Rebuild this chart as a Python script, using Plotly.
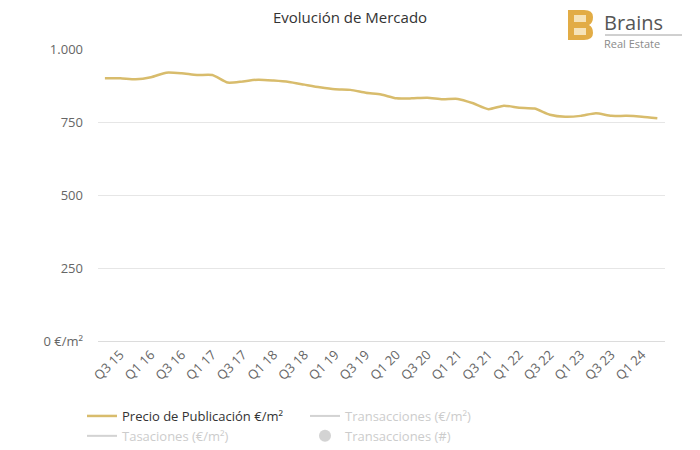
import plotly.graph_objects as go

categories = [
    "Q2 15", "Q3 15", "Q4 15",
    "Q1 16", "Q2 16", "Q3 16", "Q4 16",
    "Q1 17", "Q2 17", "Q3 17", "Q4 17",
    "Q1 18", "Q2 18", "Q3 18", "Q4 18",
    "Q1 19", "Q2 19", "Q3 19", "Q4 19",
    "Q1 20", "Q2 20", "Q3 20", "Q4 20",
    "Q1 21", "Q2 21", "Q3 21", "Q4 21",
    "Q1 22", "Q2 22", "Q3 22", "Q4 22",
    "Q1 23", "Q2 23", "Q3 23", "Q4 23",
    "Q1 24", "Q2 24",
]
precio_publicacion = [
    900, 900, 896, 903, 919, 917, 911, 911, 885, 889, 895, 892, 887,
    878, 869, 862, 860, 850, 844, 831, 831, 833, 828, 829, 814, 794,
    806, 799, 796, 775, 768, 771, 780, 771, 771, 768, 763,
]
x_tick_labels = categories[1::2]
y_tick_values = [0, 250, 500, 750, 1000]
y_tick_labels = ["0 €/m²", "250", "500", "750", "1.000"]

FONT = "Open Sans"
GOLD_LINE = "#D8BC6C"
LOGO_GOLD = "#E2AC45"

fig = go.Figure()
fig.add_trace(go.Scatter(
    x=categories, y=precio_publicacion, mode="lines",
    name="Precio de Publicación €/m²",
    line=dict(color=GOLD_LINE, width=2.5, shape="spline", smoothing=0.6),
))
fig.add_trace(go.Scatter(
    x=[categories[0]], y=[None], mode="lines", visible="legendonly",
    name="<span style='color:#9a9a9a'>Transacciones (€/m²)</span>",
    line=dict(color="#a8a8a8", width=2),
))
fig.add_trace(go.Scatter(
    x=[categories[0]], y=[None], mode="lines", visible="legendonly",
    name="<span style='color:#9a9a9a'>Tasaciones (€/m²)</span>",
    line=dict(color="#a8a8a8", width=2),
))
fig.add_trace(go.Scatter(
    x=[categories[0]], y=[None], mode="markers", visible="legendonly",
    name="<span style='color:#9a9a9a'>Transacciones (#)</span>",
    marker=dict(color="#a8a8a8", size=12),
))

# The page body has an 8px margin: figure is drawn at screen offset (8, 8).
OFF = 8
W, H = 700 - OFF, 450 - OFF
# plot area in screen pixels: x 98..665, y 49..341
L = 98 - OFF
T = 49 - OFF
R = W - (665 - OFF)
B = H - (341 - OFF)
PW, PH = W - L - R, H - T - B


def px(x):  # screen x -> paper x
    return (x - OFF - L) / PW


def py(y):  # screen y -> paper y
    return (H - B - (y - OFF)) / PH


# Logo "B"
y0, y1 = 10, 40
ym = (y0 + y1) / 2
bpath = (
    f"M {px(568)},{py(y0)} L {px(584)},{py(y0)} "
    f"Q {px(593)},{py(y0)} {px(593)},{py(y0 + 7)} "
    f"Q {px(593)},{py(ym - 2)} {px(589)},{py(ym)} "
    f"Q {px(593)},{py(ym + 2)} {px(593)},{py(y1 - 7)} "
    f"Q {px(593)},{py(y1)} {px(584)},{py(y1)} "
    f"L {px(568)},{py(y1)} Z"
)
shapes = [
    dict(type="path", xref="paper", yref="paper", path=bpath,
         fillcolor=LOGO_GOLD, line=dict(width=0)),
    dict(type="rect", xref="paper", yref="paper",
         x0=px(574), x1=px(586), y0=py(y0 + 5), y1=py(ym - 3),
         fillcolor="#f6e3b8", line=dict(width=0)),
    dict(type="rect", xref="paper", yref="paper",
         x0=px(574), x1=px(586), y0=py(ym + 3), y1=py(y1 - 5),
         fillcolor="#f6e3b8", line=dict(width=0)),
    dict(type="line", xref="paper", yref="paper",
         x0=px(605), x1=px(682), y0=py(35), y1=py(35),
         line=dict(color="#a0a0a0", width=1)),
]

annotations = [
    dict(text=("<span style='font-size:20px;color:#555555'>Brains</span>"
               "<br><span style='font-size:11px'>Real Estate</span>"),
         xref="paper", yref="paper", x=px(603), y=py(OFF),
         xanchor="left", yanchor="top", align="left", showarrow=False,
         borderpad=0,
         font=dict(family=FONT, size=13.5, color="#8a8a8a")),
]

fig.update_layout(
    width=W, height=H,
    margin=dict(l=L, r=R, t=T, b=B, autoexpand=False),
    paper_bgcolor="white", plot_bgcolor="white",
    font=dict(family=FONT, color="#333333"),
    title=dict(text="Evolución de Mercado", x=(350 - OFF) / W, xanchor="center",
               xref="container", yref="container",
               y=1 - (18 - OFF) / H, yanchor="middle",
               font=dict(family=FONT, size=15, color="#333333")),
    showlegend=True,
    legend=dict(orientation="h", xref="container", yref="container",
                x=(82 - OFF) / W, xanchor="left", y=1 - (401 - OFF) / H,
                yanchor="top", entrywidth=178, tracegroupgap=0,
                font=dict(family=FONT, size=13, color="#333333"),
                bgcolor="rgba(0,0,0,0)"),
    shapes=shapes,
    annotations=annotations,
)
fig.update_xaxes(
    type="category", range=[-0.45, len(categories) - 0.5],
    tickmode="array", tickvals=x_tick_labels, ticktext=x_tick_labels,
    tickangle=-45, showgrid=False, showline=True, linecolor="#dcdcdc",
    linewidth=1, ticks="", automargin=False,
    tickfont=dict(family=FONT, size=13, color="#666666"),
)
fig.update_yaxes(
    range=[0, 1000], tickmode="array", tickvals=y_tick_values,
    ticktext=y_tick_labels, showgrid=True, gridcolor="#e6e6e6", gridwidth=1,
    zeroline=False, showline=False, ticks="", ticklabelstandoff=14,
    automargin=False,
    tickfont=dict(family=FONT, size=13, color="#666666"),
)

fig.write_html("out.html")
